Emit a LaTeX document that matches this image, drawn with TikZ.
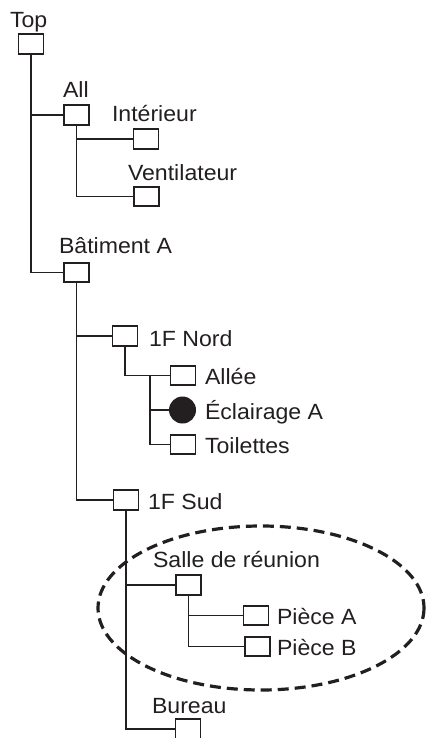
\documentclass[tikz,border=0pt]{standalone}
\usepackage{fontspec}
\setmainfont{Liberation Sans}[FakeStretch=1.05]
\definecolor{ink}{HTML}{231F20}
\begin{document}
\begin{tikzpicture}[x=1pt,y=-1pt,
  box/.style={draw=ink, line width=1.8pt, fill=white, minimum width=25pt, minimum height=19.5pt, inner sep=0pt, outer sep=0pt},
  dot/.style={circle, fill=ink, minimum size=27pt, inner sep=0pt, outer sep=0pt},
  lbl/.style={anchor=base west, inner sep=0pt, outer sep=0pt, font=\fontsize{22}{26}\selectfont, text=ink},
  wire/.style={draw=ink, line width=1.8pt},
  group/.style={draw=ink, line width=3.2pt, dash pattern=on 11pt off 6pt},
]
\clip (0,0) rectangle (426,738);
\useasboundingbox (0,0) rectangle (426,738);

% boxes
\node[box] (top)  at (31,44) {};
\node[box] (all)  at (76.5,115) {};
\node[box] (int)  at (146,139) {};
\node[box] (ven)  at (146.5,196.5) {};
\node[box] (bat)  at (76.5,272.5) {};
\node[box] (nord) at (125,336) {};
\node[box] (all2) at (183,375.5) {};
\node[dot] (ecl)  at (182.5,410) {};
\node[box] (toil) at (183,444.5) {};
\node[box] (sud)  at (126,500) {};
\node[box] (sal)  at (188.5,585) {};
\node[box] (pa)   at (256,615.5) {};
\node[box] (pb)   at (257.5,646.5) {};
\node[box] (bur)  at (188,729) {};

% labels
\node[lbl] (lTop)  at (10,28)   {Top};
\node[lbl] (lAll)  at (63,98)   {All};
\node[lbl] (lInt)  at (112,122) {Intérieur};
\node[lbl] (lVen)  at (128,181) {Ventilateur};
\node[lbl] (lBat)  at (59,253)  {Bâtiment A};
\node[lbl] (lNord) at (149,346) {1F Nord};
\node[lbl] (lAl)   at (205,384) {Allée};
\node[lbl] (lEcl)  at (205,419) {Éclairage A};
\node[lbl] (lToil) at (205,453) {Toilettes};
\node[lbl] (lSud)  at (148,509) {1F Sud};
\node[lbl] (lSal)  at (153,567) {Salle de réunion};
\node[lbl] (lPa)   at (277,624) {Pièce A};
\node[lbl] (lPb)   at (277,655) {Pièce B};
\node[lbl] (lBur)  at (152,713) {Bureau};

% connectors
\coordinate (jn) at (150,375.5);
\draw[wire] (top.south) |- (all.west);
\draw[wire] (top.south) |- (bat.west);
\draw[wire] (all.south) |- (int.west);
\draw[wire] (all.south) |- (ven.west);
\draw[wire] (bat.south) |- (nord.west);
\draw[wire] (bat.south) |- (sud.west);
\draw[wire] (nord.south) |- (all2.west);
\draw[wire] (jn) |- (ecl.west);
\draw[wire] (jn) |- (toil.west);
\draw[wire] (sud.south) |- (sal.west);
\draw[wire] (sud.south) |- (bur.west);
\draw[wire] (sal.south) |- (pa.west);
\draw[wire] (sal.south) |- (pb.west);

% group
\draw[group] (261,608) ellipse [x radius=163, y radius=82];
\end{tikzpicture}
\end{document}
